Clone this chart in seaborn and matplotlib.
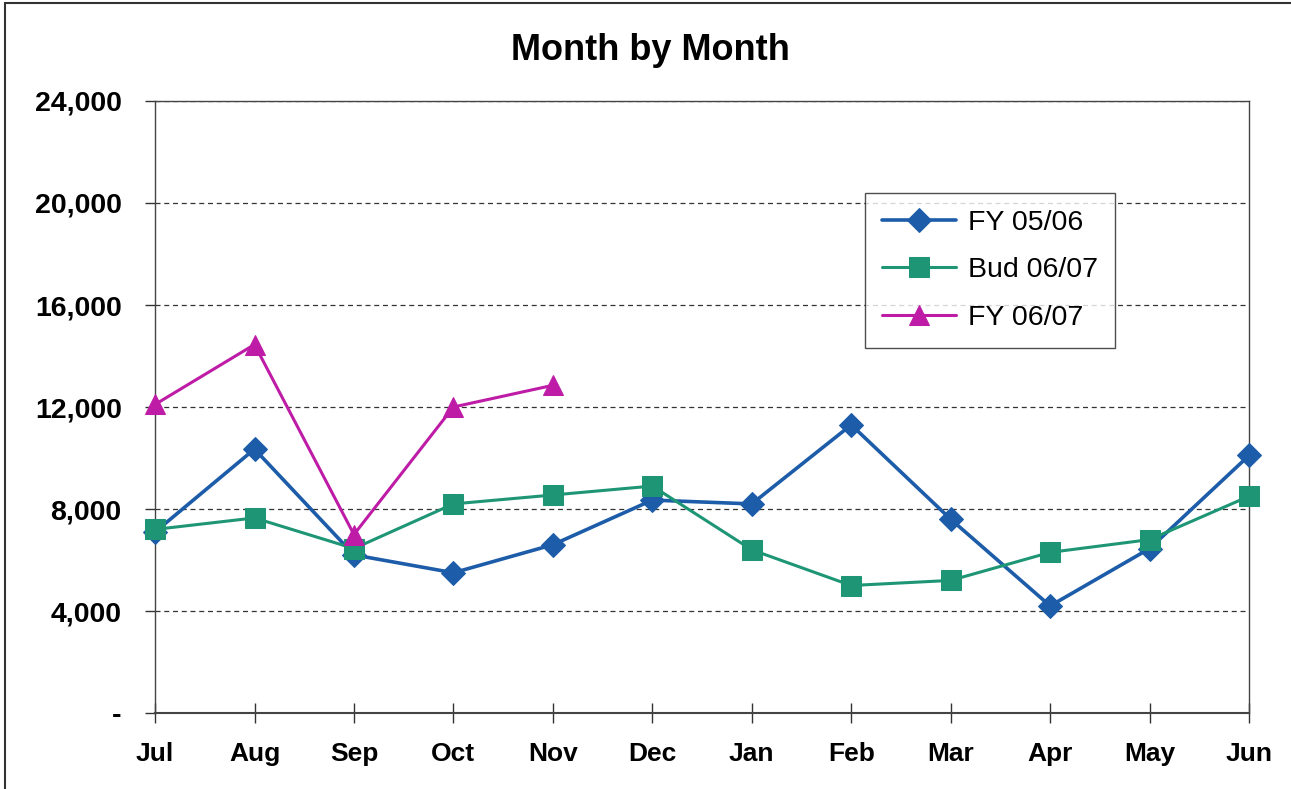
import pandas as pd
import numpy as np
import matplotlib.pyplot as plt
import seaborn as sns
from matplotlib.patches import Rectangle
from matplotlib.ticker import FuncFormatter

# Dados do gráfico
months = ['Jul', 'Aug', 'Sep', 'Oct', 'Nov', 'Dec', 'Jan', 'Feb', 'Mar', 'Apr', 'May', 'Jun']
fy_0506 = [7100, 10350, 6200, 5500, 6600, 8350, 8200, 11300, 7600, 4200, 6450, 10100]
bud_0607 = [7200, 7650, 6450, 8200, 8550, 8900, 6400, 5000, 5200, 6300, 6800, 8500]
fy_0607 = [12100, 14450, 7000, 12000, 12850]

series_names = ['FY 05/06', 'Bud 06/07', 'FY 06/07']
colors = ['#1C5CA8', '#1E9676', '#BE1CA6']
markers = ['D', 's', '^']
sizes = [12, 14, 15]

# Montar tabela longa
frames = []
for name, vals in zip(series_names, [fy_0506, bud_0607, fy_0607]):
    frames.append(pd.DataFrame({'Month': months[:len(vals)], 'Value': vals, 'Series': name}))
df = pd.concat(frames, ignore_index=True)
df['x'] = df['Month'].map({m: i for i, m in enumerate(months)})

sns.set_style('white')
plt.rcParams['font.family'] = ['Liberation Sans', 'DejaVu Sans']
plt.rcParams['text.color'] = 'black'
plt.rcParams['xtick.color'] = 'black'
plt.rcParams['ytick.color'] = 'black'

fig = plt.figure(figsize=(12.91, 7.89), dpi=100)
ax = fig.add_axes([0.1201, 0.0963, 0.8474, 0.7757])

for name, c, m, s in zip(series_names, colors, markers, sizes):
    sub = df[df['Series'] == name]
    sns.lineplot(data=sub, x='x', y='Value', ax=ax, color=c, marker=m, markersize=s,
                 markeredgecolor=c, linewidth=2.6 if name == 'FY 05/06' else 2.2,
                 label=name, sort=False, clip_on=False, zorder=3)

# Eixos
ax.set_xlim(0, 11)
ax.set_ylim(0, 24000)
ax.set_xticks(range(len(months)))
ax.set_xticklabels(months)
ax.set_yticks(range(0, 24001, 4000))
ax.yaxis.set_major_formatter(FuncFormatter(lambda v, p: '-' if v == 0 else f'{int(v):,}'))
ax.set_xlabel('')
ax.set_ylabel('')

for lab in ax.get_xticklabels():
    lab.set_fontsize(19)
    lab.set_fontweight('bold')
for lab in ax.get_yticklabels():
    lab.set_fontsize(20.5)
    lab.set_fontweight('bold')

ax.tick_params(axis='x', direction='inout', length=14, width=1, color='#333333', pad=14)
ax.tick_params(axis='y', direction='out', length=7, width=1, color='#333333', pad=17)
ax.tick_params(left=True, bottom=True)

for sp in ax.spines.values():
    sp.set_visible(True)
    sp.set_color('#444444')
    sp.set_linewidth(1.0)
ax.spines['bottom'].set_linewidth(1.5)

# Grade horizontal tracejada
ax.yaxis.grid(True, linestyle=(0, (4, 3)), color='#333333', linewidth=0.9)
ax.xaxis.grid(False)
ax.set_axisbelow(True)

# Título
fig.suptitle('Month by Month', x=0.504, y=0.958, fontsize=26, fontweight='bold')

# Legenda
leg = ax.legend(loc='upper left', bbox_to_anchor=(0.649, 0.85), fontsize=20.5,
                frameon=True, fancybox=False, edgecolor='#222222', handlelength=2.6,
                borderpad=0.6, labelspacing=0.75, handletextpad=0.4, borderaxespad=0)
leg.get_frame().set_linewidth(1.0)

# Moldura externa
fig.patches.append(Rectangle((0.004, -0.1), 1.2, 1.096, transform=fig.transFigure,
                             fill=False, edgecolor='#333333', linewidth=1.5))

plt.savefig('out.png', dpi=100)
